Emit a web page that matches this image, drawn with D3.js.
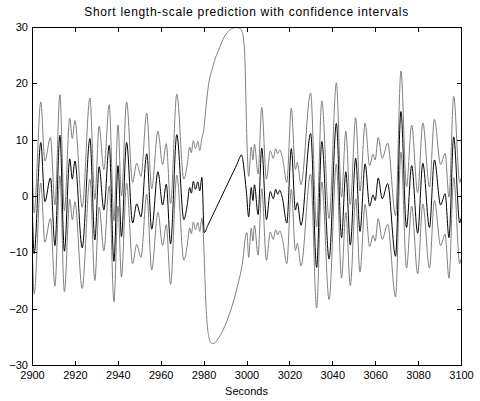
<!DOCTYPE html>
<html>
<head>
<meta charset="utf-8">
<script src="https://cdn.jsdelivr.net/npm/d3@7"></script>
<style>
  body { margin: 0; background: #fff; }
  text { font-family: "Liberation Sans", Arial, sans-serif; }
</style>
</head>
<body>
<div class="svg"></div>
<script>
const width = 480
const height = 401

// predicted mean, [seconds, value]
const meanPts = [
  [2900.0, 0], [2901.0, -10.2], [2904.1, 9.5], [2906.0, -1.0], [2908.6, 3.2],
  [2910.7, -8.8], [2913.0, 10.8], [2915.1, -9.8], [2917.6, 6.6], [2918.8, 3.0],
  [2920.0, 6.2], [2923.4, -9.2], [2927.0, 10.2], [2929.3, -7.8], [2931.3, 5.2],
  [2933.5, -2.5], [2936.0, 9.0], [2938.2, -11.6], [2940.1, 5.4], [2941.7, -7.2],
  [2944.1, 9.5], [2946.9, -4.8], [2948.8, -1.4], [2950.8, -3.7], [2953.5, 7.5],
  [2955.8, -5.9], [2958.7, 4.3], [2960.9, -1.6], [2962.6, 2.1], [2964.6, -8.5],
  [2967.5, 10.9], [2970.8, -4.2], [2972.4, -1.5], [2973.5, 1.5], [2974.3, 0.5],
  [2975.2, 2.6], [2976.2, 1.2], [2977.3, 2.5], [2978.2, 0.9], [2979.2, 3.3],
  [2980.3, -6.5], [2982.0, -5.2], [2984.0, -3.6], [2986.0, -2.0], [2988.0, -0.4],
  [2990.0, 1.2], [2992.0, 2.8], [2994.0, 4.4], [2995.5, 5.6], [2996.7, 6.7],
  [2997.6, 7.3], [2998.4, 6.2], [2999.2, 3.5], [3000.0, 0.5], [3001.0, -3.7],
  [3002.2, 1.5], [3003.0, -0.8], [3003.7, 2.0], [3005.4, -3.3], [3007.1, 8.5],
  [3009.3, -4.2], [3011.1, 0.8], [3012.5, -0.5], [3013.6, 1.2], [3014.5, 0.3],
  [3015.5, 1.0], [3016.8, -0.5], [3018.8, -4.8], [3020.9, 8.4], [3022.8, -2.5],
  [3023.7, -1.2], [3025.4, -5.2], [3029.9, 11.1], [3032.7, -12.7], [3035.1, 9.7],
  [3038.5, -11.2], [3041.9, 12.9], [3044.3, -7.4], [3046.3, 4.3], [3048.4, -8.7],
  [3050.9, 6.7], [3052.9, -6.3], [3055.3, 5.7], [3057.4, -1.8], [3059.0, 0.2],
  [3060.0, -0.8], [3061.4, 3.2], [3063.3, -0.5], [3065.8, 2.2], [3069.5, -10.7],
  [3072.0, 15.0], [3074.6, -5.6], [3077.0, 5.4], [3079.8, -6.6], [3082.2, 5.8],
  [3085.3, -5.6], [3087.6, 6.4], [3090.5, -1.6], [3092.6, 0.4], [3094.4, -7.4],
  [3096.6, 10.5], [3099.4, -4.8], [3100.0, -4.0]
]

// half width of the interval away from the gap
const halfWidth = 7.2

// interval bounds inside the gap (no observations 2980-3000)
const gapUpper = [
  [2979.2, 10.3], [2980.0, 11.5], [2980.8, 14.5], [2981.6, 17.6], [2982.5, 20.2],
  [2983.9, 22.4], [2985.5, 24.5], [2987.0, 25.9], [2989.0, 27.8], [2991.0, 29.0],
  [2993.0, 29.7], [2995.0, 29.9], [2996.8, 29.8], [2997.9, 29.2], [2998.7, 27.5],
  [2999.3, 24.0], [2999.8, 16.0], [3000.3, 8.5]
]
const gapLower = [
  [2980.0, -8.0], [2980.6, -14.5], [2981.2, -20.0], [2981.8, -23.3], [2982.6, -25.3],
  [2983.6, -26.1], [2984.8, -26.2], [2986.0, -25.7], [2988.0, -24.6], [2990.0, -23.0],
  [2992.0, -21.0], [2994.0, -18.6], [2996.0, -15.7], [2997.5, -13.2], [2998.5, -10.8],
  [2999.4, -7.5], [3000.2, -6.5]
]

const xTicks = [2900, 2920, 2940, 2960, 2980, 3000, 3020, 3040, 3060, 3080, 3100]
const yTicks = [-30, -20, -10, 0, 10, 20, 30]

const svg = d3
  .select('.svg')
  .append('svg')
  .attr('width', width)
  .attr('height', height)

const plotLeft = 32
const plotRight = 461
const plotTop = 27
const plotBottom = 365

const xScale = d3.scaleLinear().domain([2900, 3100]).range([plotLeft, plotRight])
const yScale = d3.scaleLinear().domain([-30, 30]).range([plotBottom, plotTop])

// build the two bounds: mean +/- half width, gap part read directly
const upperPts = meanPts
  .filter(d => d[0] <= 2978.2)
  .map(d => [d[0], d[1] + halfWidth])
  .concat(gapUpper)
  .concat(meanPts.filter(d => d[0] >= 3001).map(d => [d[0], d[1] + halfWidth]))

const lowerPts = meanPts
  .filter(d => d[0] <= 2979.2)
  .map(d => [d[0], d[1] - halfWidth])
  .concat(gapLower)
  .concat(meanPts.filter(d => d[0] >= 3001).map(d => [d[0], d[1] - halfWidth]))

svg
  .append('clipPath')
  .attr('id', 'clip')
  .append('rect')
  .attr('x', plotLeft)
  .attr('y', plotTop)
  .attr('width', plotRight - plotLeft)
  .attr('height', plotBottom - plotTop)

const line = d3
  .line()
  .x(d => xScale(d[0]))
  .y(d => yScale(d[1]))
  .curve(d3.curveMonotoneX)

const plot = svg.append('g').attr('clip-path', 'url(#clip)')

plot
  .selectAll('.bound')
  .data([upperPts, lowerPts])
  .enter()
  .append('path')
  .attr('class', 'bound')
  .attr('d', line)
  .attr('fill', 'none')
  .attr('stroke', '#808080')
  .attr('stroke-width', 1)

plot
  .append('path')
  .attr('d', line(meanPts))
  .attr('fill', 'none')
  .attr('stroke', '#000')
  .attr('stroke-width', 1)

// Axes, MATLAB style: ticks inside, box all round
const fontSize = 11
const styleAxis = g => {
  g.attr('font-family', '"Liberation Sans", Arial, sans-serif')
    .attr('font-size', fontSize)
  g.selectAll('path, line').attr('stroke', '#000').attr('shape-rendering', 'crispEdges')
  g.selectAll('text').attr('fill', '#000')
}

svg
  .append('g')
  .attr('transform', 'translate(0,' + plotBottom + ')')
  .call(
    d3.axisBottom(xScale).tickValues(xTicks).tickFormat(d3.format('d'))
      .tickSizeInner(-4.5).tickSizeOuter(0).tickPadding(6.5)
  )
  .call(styleAxis)

svg
  .append('g')
  .attr('transform', 'translate(0,' + plotTop + ')')
  .call(d3.axisTop(xScale).tickValues(xTicks).tickSizeInner(-4.5).tickSizeOuter(0).tickFormat(''))
  .call(styleAxis)

svg
  .append('g')
  .attr('transform', 'translate(' + plotLeft + ',0)')
  .call(d3.axisLeft(yScale).tickValues(yTicks).tickSizeInner(-4.5).tickSizeOuter(0).tickPadding(4))
  .call(styleAxis)

svg
  .append('g')
  .attr('transform', 'translate(' + plotRight + ',0)')
  .call(d3.axisRight(yScale).tickValues(yTicks).tickSizeInner(-4.5).tickSizeOuter(0).tickFormat(''))
  .call(styleAxis)

// titles
svg
  .append('text')
  .attr('x', (plotLeft + plotRight) / 2)
  .attr('y', 16)
  .attr('text-anchor', 'middle')
  .attr('font-size', 12)
  .attr('letter-spacing', 0.7)
  .text('Short length-scale prediction with confidence intervals')

svg
  .append('text')
  .attr('x', (plotLeft + plotRight) / 2)
  .attr('y', 395)
  .attr('text-anchor', 'middle')
  .attr('font-size', fontSize)
  .text('Seconds')
</script>
</body>
</html>
